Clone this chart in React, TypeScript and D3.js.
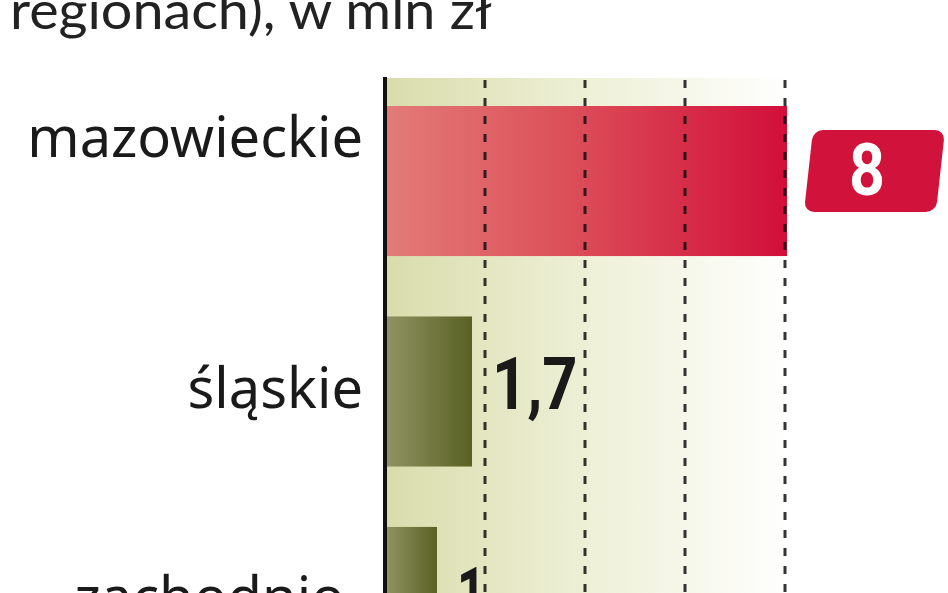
import React from 'react';
import * as d3 from 'd3';

// data (wartość w mln zł)
const regions = ['mazowieckie', 'śląskie', 'zachodniopomorskie'];
const regionLabels = ['mazowieckie', 'śląskie', 'zachodnio-'];
const values = [8, 1.7, 1.0];
const gridTicks = [2, 4, 6, 8];
const titleText = 'regionach), w mln zł';

const W = 948, H = 593;
const fmt = (v: number) => (Number.isInteger(v) ? String(v) : String(v).replace('.', ','));

export default function App() {
  const x = d3.scaleLinear().domain([0, 8]).range([387, 787]);
  const y = d3.scaleBand<string>().domain(regions).range([106, 677]).paddingInner(0.287).paddingOuter(0);
  const bw = y.bandwidth();
  const maxV = d3.max(values)!;
  // the top label sits higher than its bar, the wrapped one lower
  const labelShift: Record<string, number> = { mazowieckie: -40, zachodniopomorskie: -1 };

  return (
    <svg width={W} height={H} style={{ position: 'absolute', left: 0, top: 0, background: '#fff' }}>
      <defs>
        <linearGradient id="panel" x1="0" x2="1" y1="0" y2="0">
          <stop offset="0" stopColor="#d9ddac" />
          <stop offset="0.5" stopColor="#eef0d7" />
          <stop offset="1" stopColor="#ffffff" />
        </linearGradient>
        <linearGradient id="red" x1="0" x2="1" y1="0" y2="0">
          <stop offset="0" stopColor="#e27b78" />
          <stop offset="0.45" stopColor="#dc4f59" />
          <stop offset="1" stopColor="#d20f3a" />
        </linearGradient>
        <linearGradient id="olive" x1="0" x2="1" y1="0" y2="0">
          <stop offset="0" stopColor="#8f9362" />
          <stop offset="1" stopColor="#596124" />
        </linearGradient>
      </defs>

      <text x={10} y={29} fontFamily="Lato, 'DejaVu Sans', sans-serif" fontWeight={400} fontSize={52}
        fill="#222" textLength={482} lengthAdjust="spacingAndGlyphs">{titleText}</text>

      <rect x={x(0)} y={78} width={x(8) + 5 - x(0)} height={H} fill="url(#panel)" />

      {regions.map((r, i) => (
        <rect key={r} x={x(0)} y={y(r)!} width={x(values[i]) - x(0)} height={bw}
          fill={values[i] === maxV ? 'url(#red)' : 'url(#olive)'} />
      ))}

      {gridTicks.map(t => (
        <line key={t} x1={x(t) - 2} x2={x(t) - 2} y1={80} y2={H + 20}
          stroke="#111" strokeOpacity={0.85} strokeWidth={3} strokeDasharray="8 10" />
      ))}

      <line x1={385} x2={385} y1={77} y2={H + 20} stroke="#111" strokeWidth={4} />

      {regions.map((r, i) => {
        const cy = y(r)! + bw / 2;
        return (
          <text key={r} x={363} y={cy + 16 + (labelShift[r] ?? 0)} textAnchor="end"
            fontFamily="'Noto Sans', 'Open Sans', sans-serif" fontSize={56} fill="#1a1a1a">
            {regionLabels[i]}
          </text>
        );
      })}

      {regions.map((r, i) => {
        const cy = y(r)! + bw / 2;
        const v = values[i];
        const label = fmt(v);
        if (v === maxV) {
          const bx = x(v) + 26, by = cy - 51;
          return (
            <g key={r}>
              <rect x={0} y={0} width={132} height={82} rx={10}
                transform={`translate(${bx},${by}) skewX(-6.3)`} fill="#d1123a" />
              <text x={bx + 54} y={by + 65} textAnchor="middle" fontFamily="Roboto, sans-serif"
                fontWeight={700} fontSize={72} fill="#fff" textLength={36}
                lengthAdjust="spacingAndGlyphs">{label}</text>
            </g>
          );
        }
        return (
          <text key={r} x={x(v) + 20} y={cy + 17} fontFamily="Roboto, sans-serif" fontWeight={700}
            fontSize={72} fill="#1a1a1a" textLength={label.length * 28.5}
            lengthAdjust="spacingAndGlyphs">{label}</text>
        );
      })}
    </svg>
  );
}
